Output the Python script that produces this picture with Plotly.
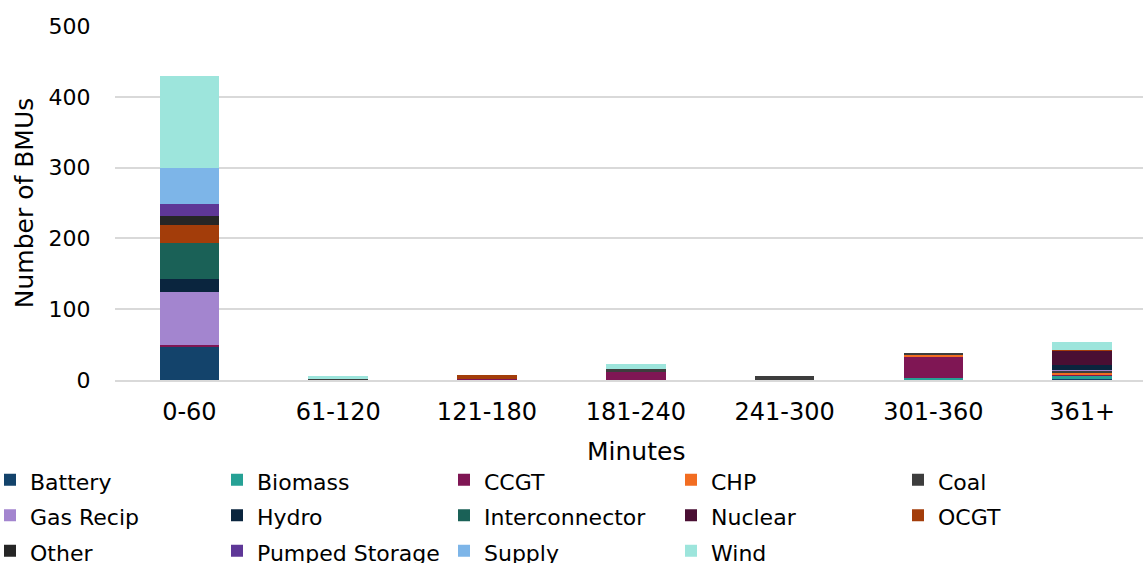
import plotly.graph_objects as go

categories = ["0-60", "61-120", "121-180", "181-240", "241-300", "301-360", "361+"]

battery        = [48, 0, 0, 0, 0, 0, 1]
biomass        = [0, 0, 0, 0, 0, 3, 5]
ccgt           = [1, 0, 2, 12, 0, 30, 2]
chp            = [0, 0, 0, 0, 0, 3, 2]
coal           = [0, 2, 0, 3, 5, 2, 3]
gas_recip      = [76, 0, 0, 0, 0, 0, 1]
hydro          = [18, 0, 0, 0, 0, 0, 7]
interconnector = [50, 0, 0, 0, 0, 0, 0]
nuclear        = [0, 0, 0, 0, 0, 0, 20]
ocgt           = [26, 0, 5, 0, 0, 0, 1]
other          = [12, 0, 0, 0, 0, 0, 0]
pumped_storage = [18, 0, 0, 0, 0, 0, 0]
supply         = [51, 0, 0, 0, 0, 0, 0]
wind           = [129, 4, 0, 7, 0, 0, 11]

series = [
    ("Battery", battery, "#13436B"),
    ("Biomass", biomass, "#26A195"),
    ("CCGT", ccgt, "#7F1654"),
    ("CHP", chp, "#F26D21"),
    ("Coal", coal, "#3D3D3D"),
    ("Gas Recip", gas_recip, "#A385CF"),
    ("Hydro", hydro, "#0A253E"),
    ("Interconnector", interconnector, "#1A6157"),
    ("Nuclear", nuclear, "#4A0F33"),
    ("OCGT", ocgt, "#A33D0A"),
    ("Other", other, "#262626"),
    ("Pumped Storage", pumped_storage, "#5E3797"),
    ("Supply", supply, "#7DB5E8"),
    ("Wind", wind, "#9DE5DC"),
]

FONT = "DejaVu Sans"

fig = go.Figure()
for name, vals, color in series:
    fig.add_trace(go.Bar(
        name=f'<span style="font-size:22px">{name}</span>', x=categories, y=vals,
        marker=dict(color=color, line=dict(width=0)),
        width=0.40,
    ))

W, H = 1143, 563
left, right_edge = 115, 1143
top, bottom = 26, 380
pw, ph = right_edge - left, bottom - top
step = 148.8
xmax = -0.5 + pw / step

legend_left = -10
legend_top = 457

fig.update_layout(
    width=W, height=H,
    barmode="stack",
    paper_bgcolor="white", plot_bgcolor="white",
    margin=dict(l=left, r=W - right_edge, t=top, b=H - bottom, autoexpand=False),
    font=dict(family=FONT, size=22, color="#000000"),
    showlegend=True,
    legend=dict(
        orientation="h",
        xref="paper", yref="paper",
        x=(legend_left - left) / pw, y=-(legend_top - bottom) / ph,
        xanchor="left", yanchor="top",
        entrywidth=182, entrywidthmode="pixels",
        font=dict(family=FONT, size=25, color="#000000"),
        traceorder="normal",
        itemclick=False,
        bgcolor="rgba(0,0,0,0)",
    ),
)
fig.update_xaxes(
    type="category",
    range=[-0.5, xmax],
    showgrid=False,
    showline=True, linecolor="#D9D9D9", linewidth=2,
    ticks="outside", ticklen=9, tickcolor="rgba(0,0,0,0)",
    tickfont=dict(family=FONT, size=24, color="#000000"),
)
fig.update_yaxes(
    range=[0, 500],
    tickvals=[0, 100, 200, 300, 400, 500],
    showgrid=True, gridcolor="#D9D9D9", gridwidth=2,
    zeroline=False,
    ticks="outside", ticklen=19, tickcolor="rgba(0,0,0,0)",
    tickfont=dict(family=FONT, size=22, color="#000000"),
    title=dict(text="Number of BMUs", font=dict(family=FONT, size=25, color="#000000"), standoff=7),
)

fig.add_annotation(
    text="Minutes", xref="paper", yref="paper",
    x=(636 - left) / pw, y=-(452 - bottom) / ph,
    xanchor="center", yanchor="middle", showarrow=False,
    font=dict(family=FONT, size=25, color="#000000"),
)

fig.write_html(
    "out.html",
    config={"displayModeBar": False},
    post_script="document.body.style.margin='0px';",
)
